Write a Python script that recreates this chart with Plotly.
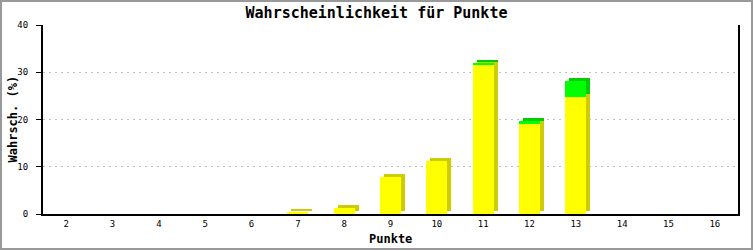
import plotly.graph_objects as go

# ---- data ----
punkte = [2, 3, 4, 5, 6, 7, 8, 9, 10, 11, 12, 13, 14, 15, 16]
gelb = [0, 0, 0, 0, 0, 0.46, 1.35, 7.9, 11.3, 31.6, 19.05, 24.8, 0, 0, 0]
gruen = [0, 0, 0, 0, 0, 0, 0, 0, 0, 0.2, 0.7, 3.25, 0, 0, 0]
y_ticks = [0, 10, 20, 30, 40]
x_title = "Punkte"
y_title = "Wahrsch. (%)"

# ---- style ----
W, H = 753, 250
ML, MR, MT, MB = 43, 15, 25, 36
BAR_W = 0.45
DX = 0.086   # depth offset (x units)
DY = 0.63    # depth offset (y units)
YEL, YEL_D = "#ffff00", "#cccc00"
GRN, GRN_D = "#00ff00", "#00cc00"
FONT = "DejaVu Sans Mono"

fig = go.Figure()

# 3D depth (shadow) bars
fig.add_trace(go.Bar(
    x=[p + DX for p in punkte], y=gelb, base=[DY if v > 0 else 0 for v in gelb],
    width=BAR_W, marker=dict(color=YEL_D, line=dict(width=0)),
    hoverinfo="skip", showlegend=False))
fig.add_trace(go.Bar(
    x=[p + DX for p in punkte], y=gruen, base=[g + DY for g in gelb],
    width=BAR_W, marker=dict(color=GRN_D, line=dict(width=0)),
    hoverinfo="skip", showlegend=False))
# front faces
fig.add_trace(go.Bar(
    x=punkte, y=gelb, base=[0] * len(gelb), width=BAR_W,
    marker=dict(color=YEL, line=dict(width=0)), showlegend=False))
fig.add_trace(go.Bar(
    x=punkte, y=gruen, base=gelb, width=BAR_W,
    marker=dict(color=GRN, line=dict(width=0)), showlegend=False))

pw = W - ML - MR
ph = H - MT - MB
fig.add_shape(type="rect", xref="paper", yref="paper",
              x0=-(ML - 1) / pw, x1=1 + (MR - 1) / pw,
              y0=-(MB - 1) / ph, y1=1 + (MT - 1) / ph,
              line=dict(color="#999999", width=2), layer="above")

# axis titles
fig.add_annotation(text=f"<b>{x_title}</b>", xref="paper", yref="paper",
                   x=0.5, y=-(239 - (H - MB)) / ph, xanchor="center", yanchor="middle",
                   showarrow=False, font=dict(family=FONT, size=12, color="black"))
fig.add_annotation(text=f"<b>{y_title}</b>", xref="paper", yref="paper",
                   x=-(ML - 12) / pw, y=0.5, xanchor="center", yanchor="middle",
                   textangle=-90, showarrow=False,
                   font=dict(family=FONT, size=12, color="black"))

fig.update_layout(
    width=W, height=H,
    margin=dict(l=ML, r=MR, t=MT, b=MB, autoexpand=False),
    paper_bgcolor="white", plot_bgcolor="white",
    barmode="overlay", bargap=0,
    font=dict(family=FONT, color="black", size=9),
    title=dict(text="<b>Wahrscheinlichkeit für Punkte</b>",
               font=dict(family=FONT, size=15, color="black"),
               x=0.5, xanchor="center", y=1 - 13 / H, yanchor="middle"),
    xaxis=dict(
        range=[1.5, 16.5], tickmode="array", tickvals=punkte,
        ticktext=[str(p) for p in punkte],
        showgrid=False, zeroline=False, automargin=False,
        showline=True, linecolor="black", linewidth=2,
        ticks="", ticklabelstandoff=0,
        tickfont=dict(family=FONT, size=9, color="black"),
        fixedrange=True),
    yaxis=dict(
        range=[0, 40], tickmode="array", tickvals=y_ticks,
        showgrid=True, gridcolor="#c0c0c0", griddash="2px,4px", gridwidth=1,
        zeroline=False, automargin=False,
        showline=True, linecolor="black", linewidth=2, mirror=True,
        ticks="outside", ticklen=5, tickcolor="black", tickwidth=1,
        ticklabelstandoff=6,
        tickfont=dict(family=FONT, size=9, color="black"),
        fixedrange=True),
)

fig.write_html("out.html", config={"displayModeBar": False})
